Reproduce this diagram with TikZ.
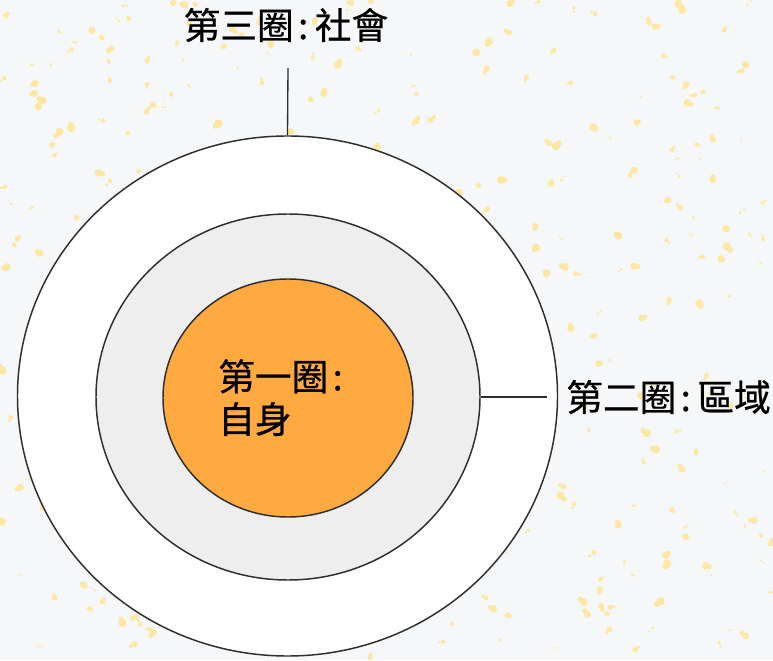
\documentclass[tikz,border=0pt]{standalone}
\usepackage{fontspec}
\setmainfont[FakeBold=0.6]{Noto Sans CJK TC}
\usetikzlibrary{shapes.geometric}
\definecolor{bgpaper}{HTML}{F5F7F9}
\definecolor{speck}{HTML}{FCE8A2}
\definecolor{ringline}{HTML}{2E2E2E}
\definecolor{ringgray}{HTML}{EEEEEE}
\definecolor{ringorange}{HTML}{FFAA40}
\tikzset{
  ring/.style={ellipse,draw=ringline,line width=1.1pt,inner sep=0pt},
  lbl/.style={font=\fontsize{27.5}{32}\selectfont,inner sep=0pt,text=black},
  tick/.style={draw=ringline,line width=1pt}
}
\newcommand{\cl}{\hspace{0.12em}:\hspace{0.18em}}
\begin{document}
\begin{tikzpicture}[x=0.75pt,y=0.75pt]
% Paper
\fill[bgpaper] (0,0) rectangle (773,660);
\useasboundingbox (0,0) rectangle (773,660);
\pgfmathsetseed{4242}
\foreach \i in {1,...,420} {
    \pgfmathsetmacro{\sx}{rnd*773}
    \pgfmathsetmacro{\sy}{rnd*660}
    \pgfmathsetmacro{\sr}{1+rnd*3.2}
    \pgfmathsetmacro{\dx}{(rnd-0.5)*8}
    \pgfmathsetmacro{\dy}{(rnd-0.5)*8}
    \fill[speck] (\sx,\sy) circle[radius=\sr]
        (\sx+\dx,\sy+\dy) circle[radius=0.7*\sr];
}

% Rings
\node[ring,fill=white,minimum width=405pt,minimum height=390pt] (outer) at (287.5,264) {};
\node[ring,fill=ringgray,minimum width=288pt,minimum height=274.5pt] (middle) at (288,263) {};
\node[ring,fill=ringorange,minimum width=187.5pt,minimum height=178.5pt] (inner) at (288,262) {};

% Labels
\node[lbl] (self) [anchor=north west,align=left] at (218,301) {第一圈\cl{}\\自身};
\node[lbl] (region) [anchor=west] at (566,263) {第二圈\cl{}區域};
\node[lbl] (society) at (286,635) {第三圈\cl{}社會};

% Ticks
\coordinate (tick3) at (288,592);
\coordinate (tick2) at (547,263);
\draw[tick] (outer.north) -- (tick3);
\draw[tick] (middle.east) -- (tick2);
\end{tikzpicture}
\end{document}
